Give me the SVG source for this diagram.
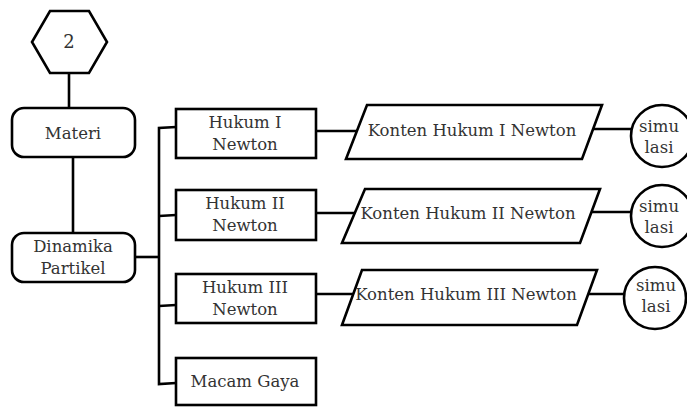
<svg xmlns="http://www.w3.org/2000/svg" width="687" height="409" viewBox="0 0 687 409">
<style>
.s{fill:#fff;stroke:#000;stroke-width:2.6}
.c{fill:none;stroke:#000;stroke-width:2.6}
text{font-family:"DejaVu Serif","Liberation Serif",serif;font-size:16.5px;fill:#333;text-anchor:middle}
</style>
<rect width="687" height="409" fill="#fff"/>
<g id="connectors">
<line class="c" x1="69" y1="73" x2="69" y2="108"/>
<line class="c" x1="73" y1="157" x2="73" y2="233"/>
<line class="c" x1="135" y1="257" x2="159" y2="257"/>
<polyline class="c" points="176,127 159,128 159,384 176,383"/>
<line class="c" x1="159" y1="216" x2="176" y2="215"/>
<line class="c" x1="159" y1="306" x2="176" y2="305"/>
<line class="c" x1="316" y1="131" x2="358" y2="131"/>
<line class="c" x1="316" y1="213" x2="355" y2="213"/>
<line class="c" x1="316" y1="294" x2="353" y2="294"/>
<line class="c" x1="591" y1="129" x2="631" y2="129"/>
<line class="c" x1="589" y1="212" x2="631" y2="212"/>
<line class="c" x1="586" y1="294" x2="624" y2="294"/>
</g>
<g id="n2"><polygon class="s" points="50,11 89,11 107,42 89,73 50,73 32,42"/><text x="69" y="48" style="font-size:18px">2</text></g>
<g id="materi"><rect class="s" x="12" y="108" width="123" height="49" rx="12"/><text x="73" y="139">Materi</text></g>
<g id="dinamika"><rect class="s" x="12" y="233" width="123" height="49" rx="12"/><text x="73" y="252">Dinamika</text><text x="73" y="274">Partikel</text></g>
<g id="hukum1"><rect class="s" x="176" y="109" width="140" height="49"/><text x="245" y="128">Hukum I</text><text x="245" y="150">Newton</text></g>
<g id="hukum2"><rect class="s" x="176" y="190" width="140" height="50"/><text x="245" y="209">Hukum II</text><text x="245" y="231">Newton</text></g>
<g id="hukum3"><rect class="s" x="176" y="274" width="140" height="49"/><text x="245" y="293">Hukum III</text><text x="245" y="315">Newton</text></g>
<g id="macam"><rect class="s" x="176" y="358" width="140" height="47"/><text x="245" y="387">Macam Gaya</text></g>
<g id="konten1"><polygon class="s" points="367,105 602,105 582,159 346,159"/><text x="472" y="136">Konten Hukum I Newton</text></g>
<g id="konten2"><polygon class="s" points="365,189 600,189 580,243 342,243"/><text x="468" y="219">Konten Hukum II Newton</text></g>
<g id="konten3"><polygon class="s" points="362,270 597,270 577,325 342,325"/><text x="466" y="300">Konten Hukum III Newton</text></g>
<g id="sim1"><circle class="s" cx="662" cy="136" r="31"/><text x="659" y="132">simu</text><text x="659" y="153">lasi</text></g>
<g id="sim2"><circle class="s" cx="662" cy="216" r="31"/><text x="659" y="212">simu</text><text x="659" y="233">lasi</text></g>
<g id="sim3"><circle class="s" cx="655" cy="298" r="31"/><text x="656" y="291">simu</text><text x="656" y="312">lasi</text></g>
</svg>
